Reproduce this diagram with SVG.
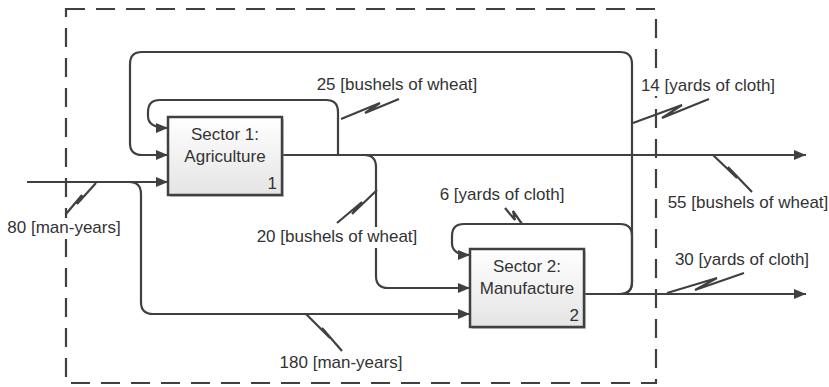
<svg xmlns="http://www.w3.org/2000/svg" width="829" height="387" viewBox="0 0 829 387">
<style>
.c{fill:none;stroke:#404040;stroke-width:2.2}
.z{fill:none;stroke:#404040;stroke-width:2.2;stroke-linejoin:miter}
.t{font-family:'Liberation Sans',Arial,sans-serif;font-size:17px;fill:#333;text-anchor:middle}
.bg{fill:#fff}
.box{fill:url(#g);stroke:#404040;stroke-width:2.5}
</style>
<defs>
<linearGradient id="g" x1="0" y1="0" x2="0" y2="1">
<stop offset="0" stop-color="#ffffff"/>
<stop offset="1" stop-color="#e4e4e4"/>
</linearGradient>
<marker id="a" markerUnits="userSpaceOnUse" markerWidth="12" markerHeight="10" refX="12" refY="5" orient="auto">
<path d="M0,0 L12,5 L0,10 z" fill="#404040"/>
</marker>
</defs>
<rect x="66" y="9" width="590" height="374" fill="none" stroke="#404040" stroke-width="2.2" stroke-dasharray="19,11"/>
<g id="connectors">
<path class="c" d="M620,294 Q632,294 632,282 V64 Q632,52 620,52 H142 Q130,52 130,64 V143 Q130,155 142,155 H168" marker-end="url(#a)"/>
<path class="c" d="M620,294 Q632,294 632,282 V236 Q632,224 620,224 H464 Q452,224 452,236 V243 Q452,255 470,255" marker-end="url(#a)"/>
<path class="c" d="M338,155 V112 Q338,100 326,100 H160 Q148,100 148,112 V116 Q148,128 168,128" marker-end="url(#a)"/>
<path class="c" d="M282,155 H806" marker-end="url(#a)"/>
<path class="c" d="M282,155 H364 Q376,155 376,167 V276 Q376,288 388,288 H470" marker-end="url(#a)"/>
<path class="c" d="M584,294 H806" marker-end="url(#a)"/>
<path class="c" d="M27,182 H168" marker-end="url(#a)"/>
<path class="c" d="M129,182 Q141,182 141,194 V302 Q141,314 153,314 H470" marker-end="url(#a)"/>
<polyline class="z" points="341,119 380,103 365,113 399,99"/>
<polyline class="z" points="633,123 682,105 662,118 709,99"/>
<polyline class="z" points="713,155 737,178 728,167 752,192"/>
<polyline class="z" points="96,183 77,204 82,195 66,214"/>
<polyline class="z" points="377,190 352,214 362,202 337,223"/>
<polyline class="z" points="505,208 515,220 513,211 522,224"/>
<polyline class="z" points="667,293 717,278 695,290 744,273"/>
<polyline class="z" points="306,314 330,338 322,328 342,351"/>
</g>
<g id="sector1">
<rect x="170" y="119" width="114" height="78" fill="#9a9a9a" opacity="0.5"/>
<rect class="box" x="168" y="117" width="114" height="78"/>
<text class="t" x="225" y="140">Sector 1:</text>
<text class="t" x="225" y="162">Agriculture</text>
<text class="t" x="277" y="189" style="text-anchor:end">1</text>
</g>
<g id="sector2">
<rect x="472" y="251" width="114" height="78" fill="#9a9a9a" opacity="0.5"/>
<rect class="box" x="470" y="249" width="114" height="78"/>
<text class="t" x="527" y="272">Sector 2:</text>
<text class="t" x="527" y="294">Manufacture</text>
<text class="t" x="579" y="321" style="text-anchor:end">2</text>
</g>
<g id="labels">
<text class="t" x="397" y="90">25 [bushels of wheat]</text>
<rect class="bg" x="640" y="76" width="138" height="20"/>
<text class="t" x="708" y="91">14 [yards of cloth]</text>
<text class="t" x="748" y="208">55 [bushels of wheat]</text>
<rect class="bg" x="7" y="218" width="114" height="21"/>
<text class="t" x="64" y="233">80 [man-years]</text>
<rect class="bg" x="255" y="227" width="165" height="21"/>
<text class="t" x="337" y="242">20 [bushels of wheat]</text>
<text class="t" x="502" y="200">6 [yards of cloth]</text>
<text class="t" x="742" y="265">30 [yards of cloth]</text>
<text class="t" x="341" y="368">180 [man-years]</text>
</g>
</svg>
